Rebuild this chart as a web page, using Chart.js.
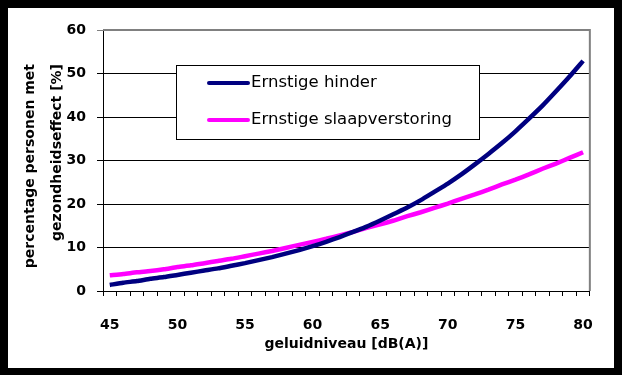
<!DOCTYPE html>
<html>
<head>
<meta charset="utf-8">
<script src="https://cdn.jsdelivr.net/npm/chart.js@4"></script>
<style>
  body { margin: 0; background: #000; }
  #wrap { position: absolute; left: 8px; top: 8px; width: 606px; height: 360px; background: #fff; }
</style>
</head>
<body>
<div id="wrap"><canvas id="noiseChart" width="606" height="360"></canvas></div>
<script>
const ctx = document.getElementById('noiseChart');

// geluidniveau in dB(A), 45..80
const levels = [];
for (let db = 45; db <= 80; db++) levels.push(String(db));

const hinder = [1.4, 1.9, 2.3, 2.8, 3.2, 3.7, 4.2, 4.7, 5.2, 5.8, 6.4, 7.1, 7.8, 8.6, 9.4, 10.3,
  11.3, 12.4, 13.6, 14.8, 16.2, 17.7, 19.2, 20.9, 22.8, 24.7, 26.8, 29.1, 31.5, 34.0, 36.7,
  39.6, 42.6, 45.9, 49.3, 52.9];
const slaap = [3.6, 3.9, 4.3, 4.6, 5.0, 5.5, 5.9, 6.4, 6.9, 7.4, 8.0, 8.6, 9.2, 9.9, 10.6, 11.3,
  12.0, 12.8, 13.6, 14.5, 15.3, 16.2, 17.2, 18.1, 19.1, 20.1, 21.2, 22.2, 23.3, 24.5, 25.6,
  26.8, 28.1, 29.3, 30.6, 31.9];

const seriesNames = ['Ernstige hinder', 'Ernstige slaapverstoring'];
const yTitle = ['percentage personen met', 'gezondheidseffect [%]'];
const xTitle = 'geluidniveau [dB(A)]';

const FONT = '"DejaVu Sans", sans-serif';

// grey frame on top and right of the plot
const framePlugin = {
  id: 'frame',
  beforeDatasetsDraw(chart) {
    const a = chart.chartArea;
    const c = chart.ctx;
    c.save();
    c.strokeStyle = '#808080';
    c.lineWidth = 2;
    c.beginPath();
    c.moveTo(a.left, a.top);
    c.lineTo(a.right, a.top);
    c.lineTo(a.right, a.bottom);
    c.stroke();
    c.restore();
  }
};

// rotated two-line y title, lines end at same height
const yTitlePlugin = {
  id: 'yTitle',
  afterDraw(chart) {
    const c = chart.ctx;
    c.save();
    c.fillStyle = '#000';
    c.font = 'bold 14px ' + FONT;
    c.textAlign = 'right';
    c.textBaseline = 'middle';
    [22, 49].forEach((x, i) => {
      c.save();
      c.translate(x, 56);
      c.rotate(-Math.PI / 2);
      c.fillText(yTitle[i], 0, 0);
      c.restore();
    });
    c.restore();
  }
};

// boxed legend sitting inside the plot
const boxLegend = {
  id: 'boxLegend',
  afterDraw(chart) {
    const c = chart.ctx;
    c.save();
    c.fillStyle = '#fff';
    c.strokeStyle = '#000';
    c.lineWidth = 1;
    c.fillRect(168, 57, 303, 74);
    c.strokeRect(168.5, 57.5, 303, 74);
    c.font = '16.5px ' + FONT;
    c.textBaseline = 'middle';
    chart.data.datasets.forEach((ds, i) => {
      const y = 75 + i * 37;
      c.strokeStyle = ds.borderColor;
      c.lineWidth = 4;
      c.lineCap = 'round';
      c.beginPath();
      c.moveTo(201, y);
      c.lineTo(240, y);
      c.stroke();
      c.fillStyle = '#000';
      c.fillText(ds.label, 243, y);
    });
    c.restore();
  }
};

new Chart(ctx, {
  type: 'line',
  data: {
    labels: levels,
    datasets: [
      {
        label: seriesNames[0],
        data: hinder,
        borderColor: '#000080',
        borderWidth: 4.5,
        pointRadius: 0,
        tension: 0.2
      },
      {
        label: seriesNames[1],
        data: slaap,
        borderColor: '#ff00ff',
        borderWidth: 4.5,
        pointRadius: 0,
        tension: 0.2
      }
    ]
  },
  options: {
    responsive: false,
    animation: false,
    events: [],
    layout: { padding: { top: 22, right: 13, bottom: 0, left: 0 } },
    plugins: {
      legend: { display: false },
      tooltip: { enabled: false }
    },
    scales: {
      x: {
        type: 'category',
        offset: true,
        afterFit: (s) => { s.height = 77; },
        grid: {
          offset: true,
          drawOnChartArea: false,
          drawTicks: true,
          tickLength: 5,
          color: '#000'
        },
        border: { color: '#000', width: 1 },
        ticks: {
          autoSkip: false,
          maxRotation: 0,
          padding: 21,
          color: '#000',
          font: { family: FONT, size: 14, weight: 'bold' },
          callback: function (v) {
            const lab = this.getLabelForValue(v);
            return Number(lab) % 5 === 0 ? lab : '';
          }
        },
        title: {
          display: true,
          text: xTitle,
          color: '#000',
          font: { family: FONT, size: 14, weight: 'bold' },
          padding: { top: 0, bottom: 15 }
        }
      },
      y: {
        min: 0,
        max: 60,
        afterFit: (s) => { s.width = 95; },
        grid: {
          color: (c) => (c.tick && c.tick.value === 60 ? '#808080' : '#000'),
          tickLength: 6
        },
        border: { color: '#000', width: 1 },
        ticks: {
          stepSize: 10,
          padding: 11,
          color: '#000',
          font: { family: FONT, size: 14, weight: 'bold' }
        }
      }
    }
  },
  plugins: [framePlugin, yTitlePlugin, boxLegend]
});
</script>
</body>
</html>
